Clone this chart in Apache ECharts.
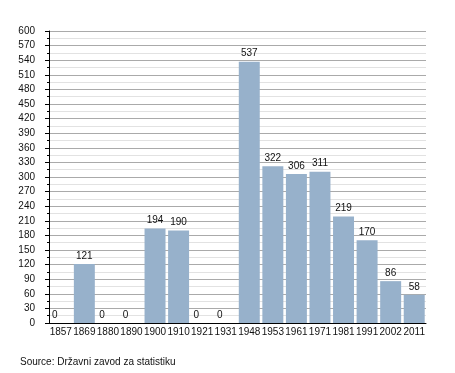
<!DOCTYPE html>
<html>
<head>
<meta charset="utf-8">
<script src="https://cdn.jsdelivr.net/npm/echarts@6/dist/echarts.min.js"></script>
<style>
html,body{margin:0;padding:0;background:#fff;}
#c{width:455px;height:373px;}
</style>
</head>
<body>
<div id="c"></div>
<script>
const categories = ['1857','1869','1880','1890','1900','1910','1921','1931','1948','1953','1961','1971','1981','1991','2002','2011'];
const values = [0,121,0,0,194,190,0,0,537,322,306,311,219,170,86,58];
const yMin = 0, yMax = 600, yStep = 30;
const sourceText = 'Source: Državni zavod za statistiku';

const FONT = 'Liberation Sans, Arial, Helvetica, sans-serif';
const chart = echarts.init(document.getElementById('c'), null, {renderer:'canvas'});
chart.setOption({
  animation:false,
  backgroundColor:'#fff',
  grid:{left:49, right:29, top:31, bottom:50, containLabel:false},
  graphic:[{type:'text', left:20, top:357, style:{text:sourceText, fontFamily:FONT, fontSize:10, fill:'#111'}}],
  xAxis:{
    type:'category', data:categories,
    axisLine:{show:true, lineStyle:{color:'#000', width:1}},
    axisTick:{show:false},
    axisLabel:{interval:0, fontFamily:FONT, fontSize:10, color:'#111', margin:4},
    splitLine:{show:false}
  },
  yAxis:{
    type:'value', min:yMin, max:yMax, interval:yStep,
    axisLine:{show:true, lineStyle:{color:'#000', width:1}},
    axisTick:{show:true, length:4, lineStyle:{color:'#000'}},
    minorTick:{show:true, splitNumber:2, length:2, lineStyle:{color:'#000'}},
    axisLabel:{fontFamily:FONT, fontSize:10, color:'#111', margin:14},
    splitLine:{show:true, lineStyle:{color:'#aaaaaa', width:1}},
    minorSplitLine:{show:true, lineStyle:{color:'#e2e2e2', width:1}}
  },
  series:[{
    type:'bar',
    data: values.map(v => v === 0 ? {value:v, label:{offset:[-6,0]}} : v),
    barCategoryGap:'11%',
    itemStyle:{color:'#97b1cb'},
    label:{show:true, position:'top', distance:3, fontFamily:FONT, fontSize:10, color:'#111'}
  }]
});
</script>
</body>
</html>
